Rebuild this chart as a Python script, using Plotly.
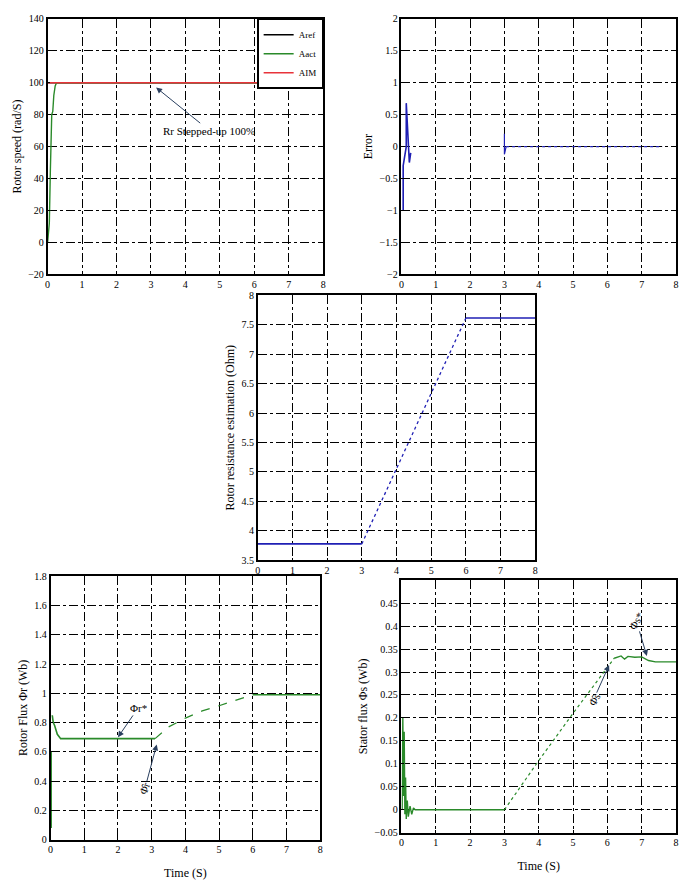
import plotly.graph_objects as go

# ---------------- data ----------------
# Panel 1: rotor speed
spd_t = [0.0, 0.03, 0.05, 0.08, 0.1, 0.12, 0.15, 0.18, 0.22, 0.26, 0.3, 8.0]
spd_act = [0, 5, 12, 45, 75, 80, 82, 92, 98, 100, 100, 100]
ref_t = [0.0, 8.0]
ref_val = [100, 100]
aim_t = [0.0, 8.0]
aim_val = [100, 100]

# Panel 2: error
err_t1 = [0.05, 0.05, 0.08, 0.12, 0.14, 0.14, 0.18, 0.22, 0.23, 0.23, 0.27]
err_v1 = [-1.0, -0.3, -0.2, -0.05, 0.0, 0.68, 0.3, 0.0, -0.05, -0.25, -0.1]
err_t2 = [3.0, 3.0, 3.0, 3.05]
err_v2 = [0.0, 0.2, -0.12, 0.0]
err_t3 = [3.05, 3.3, 7.6]
err_v3 = [0.0, 0.0, 0.0]

# Panel 3: rotor resistance estimation
rr_t1 = [0.0, 3.0]
rr_v1 = [3.78, 3.78]
rr_t2 = [3.0, 6.0]
rr_v2 = [3.78, 7.61]
rr_t3 = [6.0, 8.0]
rr_v3 = [7.61, 7.61]

# Panel 4: rotor flux
fr_t1 = [0.02, 0.02]
fr_v1 = [0.08, 0.6]
fr_t2 = [0.05, 0.08, 0.12, 0.2, 0.3, 3.1]
fr_v2 = [0.85, 0.8, 0.78, 0.72, 0.69, 0.69]
fr_t3 = [3.1, 3.5, 4.0, 4.5, 5.0, 5.5, 6.0]
fr_v3 = [0.69, 0.77, 0.83, 0.88, 0.915, 0.955, 0.99]
fr_t4 = [6.0, 8.0]
fr_v4 = [0.99, 0.99]

# Panel 5: stator flux
fs_t1 = [0.02, 0.04, 0.06, 0.08, 0.1, 0.12, 0.14, 0.17, 0.2, 0.25, 0.3, 0.35, 0.4, 0.5, 3.0]
fs_v1 = [0.0, 0.2, 0.03, 0.17, -0.01, 0.07, -0.02, 0.02, -0.015, 0.008, -0.01, 0.004, 0.0, 0.0, 0.0]
fs_t2 = [3.0, 4.0, 5.0, 6.0, 6.2]
fs_v2 = [0.0, 0.107, 0.21, 0.31, 0.33]
fs_t3 = [6.2, 6.4, 6.5, 6.6, 6.8, 7.0, 7.2, 7.4, 8.0]
fs_v3 = [0.33, 0.335, 0.328, 0.334, 0.332, 0.333, 0.325, 0.322, 0.322]

time_ticks = [0, 1, 2, 3, 4, 5, 6, 7, 8]

BLUE = "#1f1fb4"
GREEN = "#2a8a2a"
RED = "#e8333a"
FONT = "Liberation Serif"

fig = go.Figure()

def add(x, y, ax, color, dash="solid", width=1.4, name=None, legend=False):
    fig.add_trace(go.Scatter(x=x, y=y, mode="lines", xaxis="x" + ax, yaxis="y" + ax,
                             line=dict(color=color, dash=dash, width=width),
                             name=name, showlegend=legend))

# panel 1
add(ref_t, ref_val, "", "black", name="Aref", legend=True)
add(spd_t, spd_act, "", GREEN, name="Aact", legend=True)
add(aim_t, aim_val, "", RED, width=1.6, name="AIM", legend=True)
# panel 2
add(err_t1, err_v1, "2", BLUE, width=1.6)
add(err_t2, err_v2, "2", BLUE, width=1.2)
add(err_t3, err_v3, "2", BLUE, dash="dot", width=1.1)
# panel 3
add(rr_t1, rr_v1, "3", BLUE, width=1.6)
add(rr_t2, rr_v2, "3", BLUE, dash="dot", width=1.3)
add(rr_t3, rr_v3, "3", BLUE, width=1.6)
# panel 4
add(fr_t1, fr_v1, "4", GREEN, width=1.4)
add(fr_t2, fr_v2, "4", GREEN, width=1.6)
add(fr_t3, fr_v3, "4", GREEN, dash="dash", width=1.2)
add(fr_t4, fr_v4, "4", GREEN, width=1.6)
# panel 5
add(fs_t1, fs_v1, "5", GREEN, width=1.4)
add(fs_t2, fs_v2, "5", GREEN, dash="dot", width=1.2)
add(fs_t3, fs_v3, "5", GREEN, width=1.4)

W, H = 680, 891

def xdom(a, b):
    return [a / W, b / W]

def ydom(top, bottom):
    return [1 - bottom / H, 1 - top / H]

axis_common = dict(
    showline=True, linecolor="black", linewidth=1.5, mirror=True,
    ticks="inside", ticklen=3, tickcolor="black",
    showgrid=True, gridcolor="black", gridwidth=1, griddash="dashdot",
    zeroline=False, tickfont=dict(family=FONT, size=10, color="black"),
    title_font=dict(family=FONT, size=12, color="black"),
)

def xa(dom, anchor, title=None):
    d = dict(axis_common, domain=dom, anchor=anchor, range=[0, 8],
             tickvals=time_ticks)
    if title:
        d["title"] = dict(text=title, standoff=14)
    return d

def ya(dom, anchor, rng, tv, title, ttext=None):
    d = dict(axis_common, domain=dom, anchor=anchor, range=rng, tickvals=tv,
             title=dict(text=title, standoff=4))
    if ttext is not None:
        d["ticktext"] = ttext
    return d

p1x, p1y = xdom(45, 323), ydom(13, 272)
p2x, p2y = xdom(402, 679), ydom(13, 272)
p3x, p3y = xdom(257, 537), ydom(293, 562)
p4x, p4y = xdom(48, 320), ydom(578, 845)
p5x, p5y = xdom(402, 679), ydom(582, 838)

fs_ticks = [-0.05, 0, 0.05, 0.1, 0.15, 0.2, 0.25, 0.3, 0.35, 0.4, 0.45]

fig.update_layout(
    width=W, height=H, margin=dict(l=0, r=0, t=0, b=0),
    paper_bgcolor="white", plot_bgcolor="white",
    font=dict(family=FONT, size=10, color="black"),
    xaxis=xa(p1x, "y"),
    yaxis=ya(p1y, "x", [-20, 140], [-20, 0, 20, 40, 60, 80, 100, 120, 140], "Rotor speed (rad/S)"),
    xaxis2=xa(p2x, "y2"),
    yaxis2=ya(p2y, "x2", [-2, 2], [-2, -1.5, -1, -0.5, 0, 0.5, 1, 1.5, 2], "Error"),
    xaxis3=xa(p3x, "y3"),
    yaxis3=ya(p3y, "x3", [3.5, 8], [3.5, 4, 4.5, 5, 5.5, 6, 6.5, 7, 7.5, 8],
              "Rotor resistance estimation (Ohm)"),
    xaxis4=xa(p4x, "y4", "Time (S)"),
    yaxis4=ya(p4y, "x4", [0, 1.8], [0, 0.2, 0.4, 0.6, 0.8, 1, 1.2, 1.4, 1.6, 1.8],
              "Rotor Flux Φr (Wb)"),
    xaxis5=xa(p5x, "y5", "Time (S)"),
    yaxis5=ya(p5y, "x5", [-0.05, 0.5], fs_ticks, "Stator flux Φs (Wb)"),
    legend=dict(x=p1x[1], y=p1y[1], xanchor="right", yanchor="top",
                bgcolor="white", bordercolor="black", borderwidth=1.5,
                font=dict(family=FONT, size=9, color="black"),
                tracegroupgap=0, itemwidth=30),
)

ann_font = dict(family=FONT, size=11, color="black")
fig.add_annotation(x=3.15, y=97, ax=4.7, ay=70, xref="x", yref="y", axref="x", ayref="y",
                   text="Rr Stepped-up 100%", showarrow=True, arrowhead=2, arrowsize=1.2,
                   arrowwidth=1, font=ann_font)
fig.add_annotation(x=2.0, y=0.7, ax=2.6, ay=0.9, xref="x4", yref="y4", axref="x4", ayref="y4",
                   text="Φr*", showarrow=True, arrowhead=2, arrowsize=1.2,
                   arrowwidth=1, font=ann_font)
fig.add_annotation(x=3.15, y=0.65, ax=2.8, ay=0.35, xref="x4", yref="y4", axref="x4", ayref="y4",
                   text="Φ̂r", showarrow=True, arrowhead=2, arrowsize=1.2,
                   arrowwidth=1, font=ann_font, textangle=-70)
fig.add_annotation(x=6.05, y=0.315, ax=5.6, ay=0.24, xref="x5", yref="y5", axref="x5", ayref="y5",
                   text="Φ̂s", showarrow=True, arrowhead=2, arrowsize=1.2,
                   arrowwidth=1, font=ann_font, textangle=-60)
fig.add_annotation(x=7.15, y=0.335, ax=6.85, ay=0.41, xref="x5", yref="y5", axref="x5", ayref="y5",
                   text="Φs*", showarrow=True, arrowhead=2, arrowsize=1.2,
                   arrowwidth=1, font=ann_font, textangle=-60)

fig.write_html("out.html")
